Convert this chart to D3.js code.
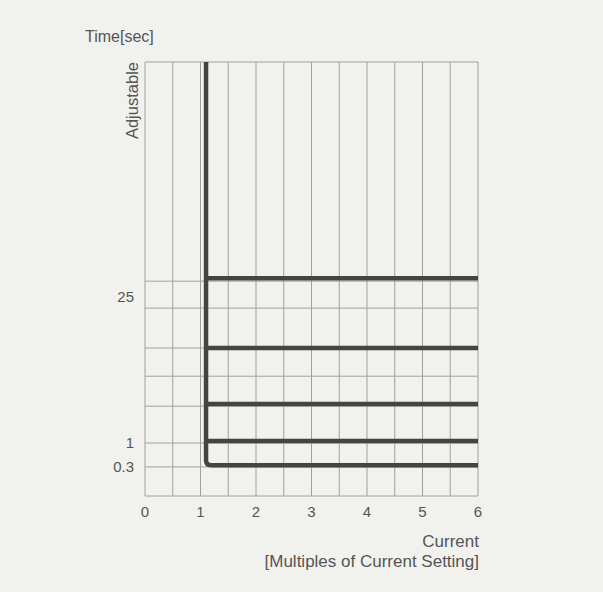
<!DOCTYPE html>
<html>
<head>
    <meta charset="utf-8">
    <script src="https://d3js.org/d3.v7.min.js"></script>
    <style>
        body { margin: 0; background: #f1f1ee; }
        text { font-family: "Liberation Sans", Arial, sans-serif; fill: #555; }
    </style>
</head>
<body>
    <div id="my_dataviz"></div>
    <script>
        // values
        // y axis is schematic ("Adjustable"), so levels are in relative units 0..100
        var xTicks = [0, 1, 2, 3, 4, 5, 6];
        var yGridLevels = [49.5, 43.3, 34.1, 27.6, 20.7, 12.2, 6.7];
        var yTickLabels = ["25", "1", "0.3"];
        var yTickLevels = [45.9, 12.2, 6.7];
        var pickupCurrent = 1.1;
        var maxCurrent = 6;
        var timeLevels = [50.2, 34.1, 21.2, 12.7, 7.1];

        var width = 603;
        var height = 592;
        var margin = { left: 145, right: 125, top: 62, bottom: 96 };

        var svg = d3.select("#my_dataviz")
            .append("svg")
            .attr("width", width)
            .attr("height", height);

        svg.append("rect")
            .attr("width", width)
            .attr("height", height)
            .attr("fill", "#f1f1ee");

        var x = d3.scaleLinear()
            .domain([0, 6])
            .range([margin.left, width - margin.right]);

        var y = d3.scaleLinear()
            .domain([0, 100])
            .range([height - margin.bottom, margin.top]);

        var grid = svg.append("g")
            .attr("stroke", "#a0a09d")
            .attr("stroke-width", 1);

        // vertical grid every 0.5
        grid.selectAll("line.vx")
            .data(x.ticks(12))
            .enter()
            .append("line")
            .attr("x1", d => x(d))
            .attr("x2", d => x(d))
            .attr("y1", y(0))
            .attr("y2", y(100));

        // horizontal grid
        grid.selectAll("line.hy")
            .data(yGridLevels.concat([0, 100]))
            .enter()
            .append("line")
            .attr("x1", x(0))
            .attr("x2", x(6))
            .attr("y1", d => y(d))
            .attr("y2", d => y(d));

        // x tick labels
        svg.append("g")
            .selectAll("text")
            .data(xTicks)
            .enter()
            .append("text")
            .attr("x", d => x(d))
            .attr("y", y(0) + 21)
            .attr("text-anchor", "middle")
            .style("font-size", "15px")
            .text(d => d);

        // y tick labels
        svg.append("g")
            .selectAll("text")
            .data(yTickLabels)
            .enter()
            .append("text")
            .attr("x", x(0) - 11)
            .attr("y", (d, i) => y(yTickLevels[i]))
            .attr("dy", "0.35em")
            .attr("text-anchor", "end")
            .style("font-size", "15px")
            .text(d => d);

        // characteristic curve
        var lowest = d3.min(timeLevels);
        var r = 5;
        var path = d3.path();
        path.moveTo(x(pickupCurrent), y(100));
        path.lineTo(x(pickupCurrent), y(lowest) - r);
        path.quadraticCurveTo(x(pickupCurrent), y(lowest), x(pickupCurrent) + r, y(lowest));
        path.lineTo(x(maxCurrent), y(lowest));
        timeLevels.filter(t => t !== lowest).forEach(function (t) {
            path.moveTo(x(pickupCurrent), y(t));
            path.lineTo(x(maxCurrent), y(t));
        });

        svg.append("path")
            .attr("d", path.toString())
            .attr("fill", "none")
            .attr("stroke", "#444")
            .attr("stroke-width", 4.5);

        // axis titles
        svg.append("text")
            .attr("x", 85)
            .attr("y", 42)
            .style("font-size", "16px")
            .text("Time[sec]");

        svg.append("text")
            .attr("transform", "translate(138," + y(100) + ") rotate(-90)")
            .attr("text-anchor", "end")
            .style("font-size", "16.5px")
            .text("Adjustable");

        svg.append("text")
            .attr("x", x(6) + 1)
            .attr("y", 547)
            .attr("text-anchor", "end")
            .style("font-size", "17px")
            .text("Current");

        svg.append("text")
            .attr("x", x(6) + 1)
            .attr("y", 567)
            .attr("text-anchor", "end")
            .style("font-size", "17px")
            .text("[Multiples of Current Setting]");
    </script>
</body>
</html>
